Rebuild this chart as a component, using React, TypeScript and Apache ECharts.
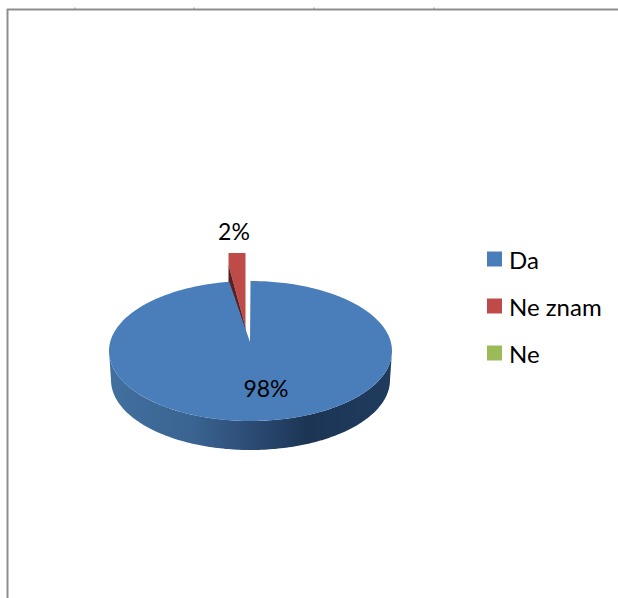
import React, { useEffect, useRef } from "react";
import * as echarts from "echarts";

const categories = ["Da", "Ne znam", "Ne"];
const values = [97.6, 2.4, 0];
const colors = ["#4A7EBB", "#BE4B48", "#9BBB59"];
const frameTicks = [75, 194, 314, 434];
const FONT = '23px Lato, "Noto Sans", sans-serif';

const total = values.reduce((a, b) => a + b, 0);
const CX = 250.5, CY = 351, RX = 141.5, RY = 70, DEPTH = 29;

const startOf = (i: number) =>
  (values.slice(0, i).reduce((a, b) => a + b, 0) / total) * Math.PI * 2;

const arc = (a0: number, a1: number, rx: number, ry: number, cx: number, cy: number) => {
  const pts: number[][] = [];
  const n = Math.max(2, Math.ceil(Math.abs(a1 - a0) / 0.02));
  for (let k = 0; k <= n; k++) {
    const t = a0 + ((a1 - a0) * k) / n;
    pts.push([cx + rx * Math.sin(t), cy - ry * Math.cos(t)]);
  }
  return pts;
};

const pctText = (i: number) => `${Math.round((values[i] / total) * 100)}%`;

const renderDa = (_p: any, api: any) => {
  const i = 0;
  const a0 = startOf(i);
  const a1 = a0 + (api.value(0) / total) * Math.PI * 2;
  const lower = arc(Math.PI / 2, (Math.PI * 3) / 2, RX, RY, CX, CY);
  const bottom = arc((Math.PI * 3) / 2, Math.PI / 2, RX - 2, RY, CX, CY + DEPTH);
  const wall = [...lower, ...bottom];
  return {
    type: "group",
    children: [
      {
        type: "polygon",
        shape: { points: wall },
        style: {
          fill: new echarts.graphic.LinearGradient(0, 0, 1, 0, [
            { offset: 0, color: "#41709F" },
            { offset: 0.3, color: "#3A6391" },
            { offset: 0.5, color: "#2C4C75" },
            { offset: 0.7, color: "#1C3555" },
            { offset: 1, color: "#1F3B5E" },
          ]),
        },
      },
      {
        type: "polygon",
        shape: { points: [[250, 342], ...arc(a0, a1, RX, RY, CX, CY)] },
        style: { fill: colors[i] },
      },
      {
        type: "text",
        style: { text: pctText(i), x: 266, y: 388, font: FONT, fill: "#000", align: "center", verticalAlign: "middle" },
      },
    ],
  };
};

const renderNeZnam = (_p: any, api: any) => {
  const i = 1;
  const share = api.value(0) / total;
  if (share <= 0) return null;
  const a0 = startOf(i);
  const left = arc(a0, a0, 113, 74, 245.5, 327)[0];
  return {
    type: "group",
    children: [
      {
        type: "polygon",
        shape: { points: [[245.5, 327], [left[0], 265], [left[0], 253], [245.5, 253]] },
        style: { fill: colors[i] },
      },
      {
        type: "polygon",
        shape: { points: [[left[0], 265], [245.5, 327], [245.5, 345], [left[0], 286]] },
        style: { fill: "#5A1F1E" },
      },
      {
        type: "text",
        style: { text: pctText(i), x: 234, y: 231, font: FONT, fill: "#000", align: "center", verticalAlign: "middle" },
      },
    ],
  };
};

const renderNe = () => null;

const renderers = [renderDa, renderNeZnam, renderNe];
const zs = [3, 2, 1];

export default function App() {
  const ref = useRef<HTMLDivElement>(null);
  useEffect(() => {
    const chart = echarts.init(ref.current!, undefined, { renderer: "svg" });
    chart.setOption({
      animation: false,
      backgroundColor: "#fff",
      legend: {
        data: categories,
        orient: "vertical",
        left: 487,
        top: 247,
        padding: 0,
        icon: "rect",
        itemWidth: 15,
        itemHeight: 15,
        itemGap: 23,
        selectedMode: false,
        textStyle: { fontFamily: "Lato, 'Noto Sans', sans-serif", fontSize: 24, color: "#000", padding: [0, 0, 0, 2] },
      },
      graphic: [
        { type: "line", shape: { x1: 7, y1: 9.5, x2: 618, y2: 9.5 }, style: { stroke: "#8E8E8E", lineWidth: 2 } },
        { type: "line", shape: { x1: 7.5, y1: 9, x2: 7.5, y2: 598 }, style: { stroke: "#8E8E8E", lineWidth: 2 } },
        ...frameTicks.map((x) => ({
          type: "line",
          shape: { x1: x, y1: 7.5, x2: x, y2: 10 },
          style: { stroke: "#8E8E8E", lineWidth: 1 },
        })),
      ],
      series: categories.map((name, i) => ({
        type: "custom",
        name,
        coordinateSystem: "none",
        z: zs[i],
        itemStyle: { color: colors[i] },
        data: [[values[i]]],
        silent: true,
        renderItem: renderers[i],
      })),
    });
    return () => chart.dispose();
  }, []);
  return <div ref={ref} style={{ position: "fixed", left: 0, top: 0, width: 618, height: 598 }} />;
}
